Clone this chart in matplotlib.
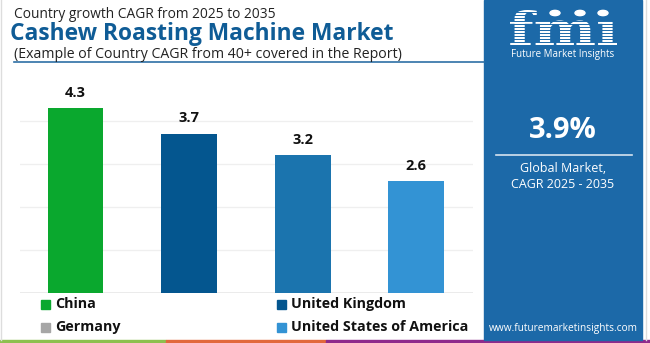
import matplotlib.pyplot as plt
from matplotlib.patches import Rectangle, Circle, PathPatch
from matplotlib.lines import Line2D
from matplotlib.textpath import TextPath
from matplotlib.font_manager import FontProperties
from matplotlib.transforms import Affine2D

countries = ["China", "United Kingdom", "Germany", "United States of America"]
cagr = [4.3, 3.7, 3.2, 2.6]
bar_colors = ["#0aa82e", "#04568f", "#1b74ae", "#3393d4"]
legend_labels = ["China", "United Kingdom", "Germany", "United States of America"]
legend_colors = ["#0aa82e", "#04568f", "#a6a6a6", "#3393d4"]
global_cagr = 3.9

W, H = 650, 343
PANEL = "#1c69a8"
FONT = "Open Sans"

fig = plt.figure(figsize=(6.5, 3.43), dpi=100)


def fx(px):
    return px / W


def fy(py):
    return 1 - py / H


# bar chart
ax = fig.add_axes([fx(20), fy(293), fx(473) - fx(20), (293 - 95) / H])
xs = list(range(len(countries)))
bars = ax.bar(xs, cagr, width=0.49, color=bar_colors, zorder=3)
ax.set_xlim(-0.49, 3.5)
ax.set_ylim(0, 4.6)
ax.set_yticks([1, 2, 3, 4])
ax.grid(axis="y", color="#efefef", lw=0.9)
ax.set_axisbelow(True)
for s in ax.spines.values():
    s.set_visible(False)
ax.tick_params(left=False, bottom=False, labelleft=False, labelbottom=False)
ax.axhline(0, color="#e8e8e8", lw=1.2, zorder=2)
for b, v in zip(bars, cagr):
    ax.annotate(f"{v}", (b.get_x() + b.get_width() / 2, v), xytext=(0, 6),
                textcoords="offset points", ha="center", va="bottom",
                fontsize=10.5, fontweight="bold", family=FONT, color="#111111")

# legend, two columns
legend_pos = [(41, 304), (277, 304), (41, 327), (277, 327)]
for (px, py), lab, col in zip(legend_pos, legend_labels, legend_colors):
    fig.patches.append(Rectangle((fx(px), fy(py + 4.5)), 9 / W, 9 / H,
                                 transform=fig.transFigure, color=col))
    fig.text(fx(px + 14), fy(py), lab, fontsize=10.3, fontweight="bold",
             family=FONT, va="center", ha="left", color="#111111")

# titles
fig.text(fx(14), fy(15), "Country growth CAGR from 2025 to 2035", fontsize=9.9,
         family=FONT, va="center", color="#222222")
fig.text(fx(10), fy(34), "Cashew Roasting Machine Market", fontsize=16.4,
         fontweight="bold", family=FONT, va="center", color="#0f5c96")
fig.text(fx(14), fy(54), "(Example of Country CAGR from 40+ covered in the Report)",
         fontsize=10.2, family=FONT, va="center", color="#222222")
fig.lines.append(Line2D([fx(14), fx(484)], [fy(62), fy(62)], color="#2d6fa6",
                        lw=1.2, transform=fig.transFigure))

# frame edges
fig.lines.append(Line2D([fx(1), fx(1)], [fy(0), fy(340)], color="#dddddd",
                        lw=1, transform=fig.transFigure))
fig.lines.append(Line2D([fx(646), fx(646)], [fy(0), fy(340)], color="#dddddd",
                        lw=1, transform=fig.transFigure))

# bottom colour strip
for x0, x1, c in [(0, 166, "#8dc04f"), (166, 326, "#e2683c"), (326, 650, "#8e2a8c")]:
    fig.patches.append(Rectangle((fx(x0), 0), (x1 - x0) / W, 3 / H,
                                 transform=fig.transFigure, color=c))

# right info panel
fig.patches.append(Rectangle((fx(484), fy(340)), (642 - 484) / W, 340 / H,
                             transform=fig.transFigure, color=PANEL, zorder=1))

# logo: stretched "fmi" glyphs with stripes
logo = TextPath((0, 0), "fm\u0131", size=10,
                prop=FontProperties(family="DejaVu Serif", weight="bold"))
ext = logo.get_extents()
sx = (fx(617) - fx(510)) / ext.width
sy = (fy(10) - fy(45)) / ext.height
tr = Affine2D().translate(-ext.x0, -ext.y0).scale(sx, sy).translate(fx(510), fy(45))
fig.patches.append(PathPatch(logo, transform=tr + fig.transFigure, color="white",
                             lw=0, zorder=2))
for yy in range(12, 46, 3):
    fig.lines.append(Line2D([fx(506), fx(620)], [fy(yy), fy(yy)], color=PANEL,
                            lw=0.7, transform=fig.transFigure, zorder=3))
for cx in (555, 580, 603):
    fig.patches.append(Circle((fx(cx), fy(13)), 5 / W, transform=fig.transFigure,
                              color="white", zorder=4))
fig.text(fx(563), fy(55), "Future Market Insights", fontsize=7, family=FONT,
         ha="center", va="center", color="white", zorder=4)

fig.text(fx(563), fy(130), f"{global_cagr}%", fontsize=21, fontweight="bold",
         family=FONT, ha="center", va="center", color="white", zorder=4)
fig.lines.append(Line2D([fx(496), fx(632)], [fy(155), fy(155)], color="#d5e3ef",
                        lw=1.2, transform=fig.transFigure, zorder=4))
fig.text(fx(563), fy(177), "Global Market,\nCAGR 2025 - 2035", fontsize=9,
         family=FONT, ha="center", va="center", color="white", linespacing=1.3,
         zorder=4)
fig.text(fx(563), fy(328), "www.futuremarketinsights.com", fontsize=7.3,
         family=FONT, ha="center", va="center", color="white", zorder=4)

fig.savefig("out.png", dpi=100)
